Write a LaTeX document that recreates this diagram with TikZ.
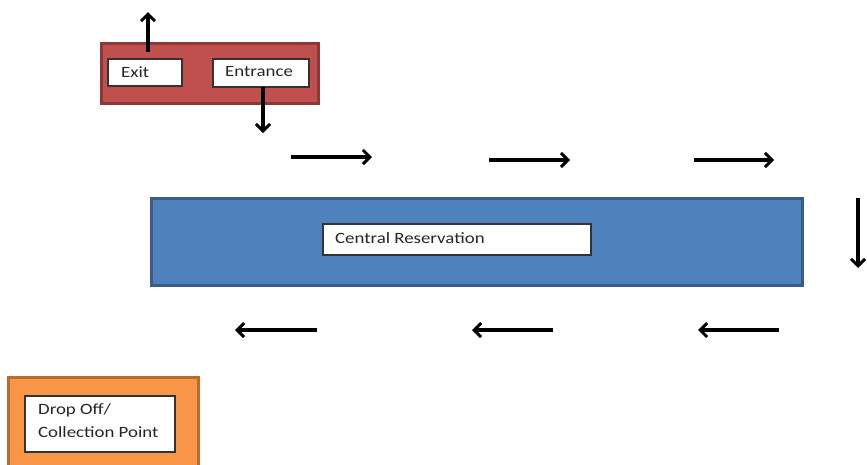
\documentclass[tikz,border=0pt]{standalone}
\usepackage{fontspec}
\setmainfont{Carlito}[FakeStretch=1.2]
\usetikzlibrary{arrows.meta}
\definecolor{redfill}{HTML}{C0504D}
\definecolor{redline}{HTML}{8C3836}
\definecolor{bluefill}{HTML}{4F81BD}
\definecolor{blueline}{HTML}{385D8A}
\definecolor{orangefill}{HTML}{F79646}
\definecolor{orangeline}{HTML}{B66D31}
\tikzset{
  area/.style={line width=3pt, inner sep=0pt},
  label box/.style={draw=black!80, fill=white, line width=1.3pt, inner sep=0pt},
  txt/.style={anchor=north west, inner sep=0pt, font=\fontsize{15.7}{23.5}\selectfont, align=left, text=black!85},
  flow/.style={line width=3.4pt, -{Straight Barb[length=7pt, width=14pt, line width=3pt]}}
}
\begin{document}
\begin{tikzpicture}[x=1pt, y=-1pt]
\useasboundingbox (0,0) rectangle (867,464);
% red entrance/exit area
\draw[area, fill=redfill, draw=redline] (101,43) rectangle (318,103);
\draw[label box] (108,59) rectangle (182,86);
\node[txt] (exit) at (121,66) {Exit};
\draw[label box] (213,59) rectangle (309,87);
\node[txt] (entrance) at (225,66) {Entrance};
\coordinate (exitA) at (148,52);
\coordinate (exitB) at (148,12);
\coordinate (entA) at (263,87);
\coordinate (entB) at (263,133);
\draw[flow] (exitA) -- (exitB);
\draw[flow] (entA) -- (entB);
% top right-going arrows
\coordinate (r1a) at (291,157); \coordinate (r1b) at (372,157);
\coordinate (r2a) at (489,160); \coordinate (r2b) at (570,160);
\coordinate (r3a) at (694,160); \coordinate (r3b) at (774,160);
\draw[flow] (r1a) -- (r1b);
\draw[flow] (r2a) -- (r2b);
\draw[flow] (r3a) -- (r3b);
% central reservation
\draw[area, fill=bluefill, draw=blueline] (151,198) rectangle (802,285);
\draw[label box] (323,224) rectangle (591,255);
\node[txt] (central) at (335,232) {Central Reservation};
% right down arrow
\coordinate (dA) at (858,198); \coordinate (dB) at (858,268);
\draw[flow] (dA) -- (dB);
% bottom left-going arrows
\coordinate (l1a) at (317,330); \coordinate (l1b) at (235,330);
\coordinate (l2a) at (553,330); \coordinate (l2b) at (472,330);
\coordinate (l3a) at (779,330); \coordinate (l3b) at (698,330);
\draw[flow] (l1a) -- (l1b);
\draw[flow] (l2a) -- (l2b);
\draw[flow] (l3a) -- (l3b);
% drop off area
\draw[area, fill=orangefill, draw=orangeline] (8,377) rectangle (198,470);
\draw[label box] (25,396) rectangle (175,452);
\node[txt] (drop) at (38,403) {Drop Off/\\Collection Point};
\end{tikzpicture}
\end{document}
